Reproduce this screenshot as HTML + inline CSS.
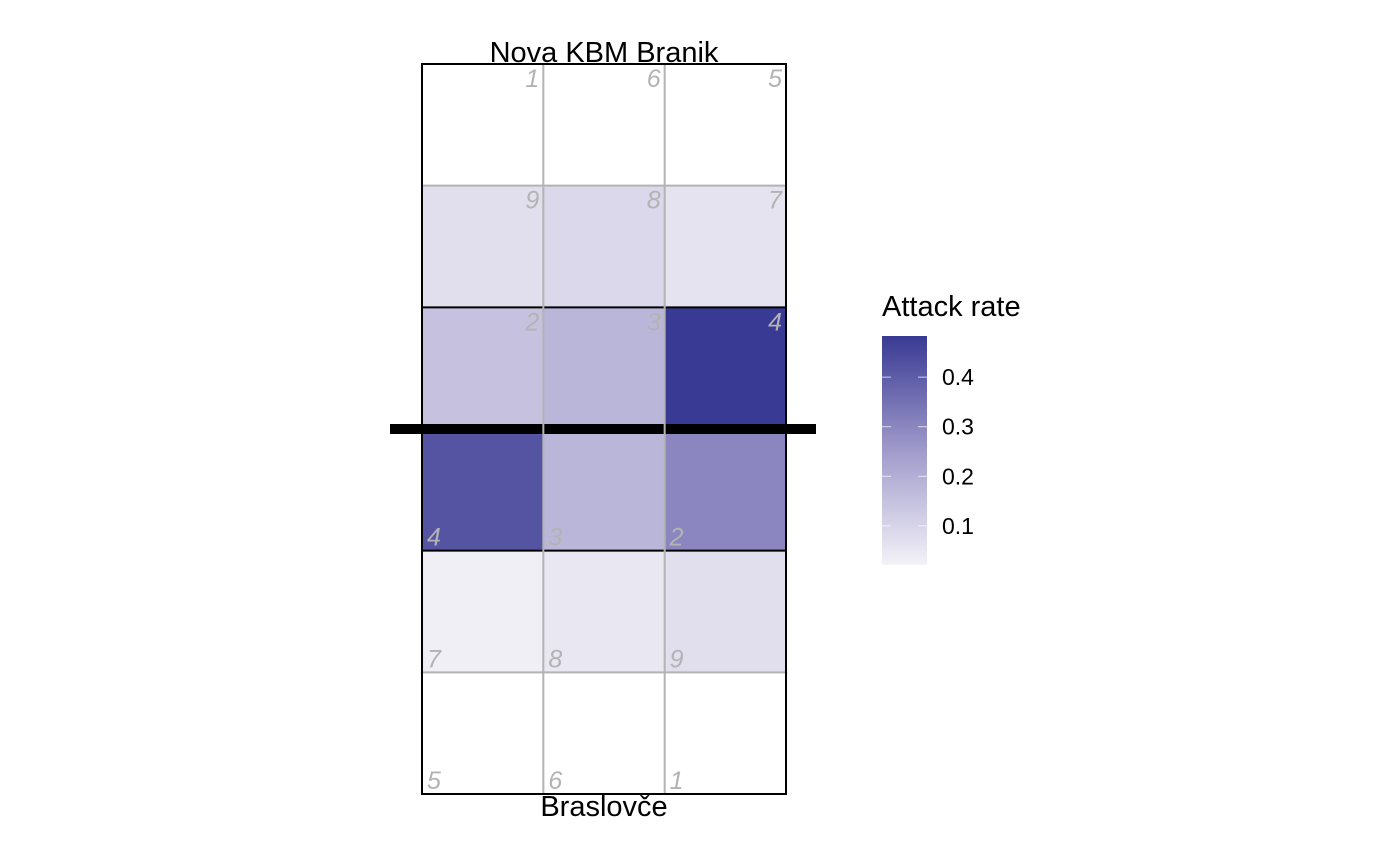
<!DOCTYPE html>
<html><head><meta charset="utf-8"><style>body{margin:0;background:#fff}svg{display:block;font-family:"Liberation Sans",sans-serif}</style></head>
<body>
<svg id="chart" width="1400" height="865" viewBox="0 0 1400 865" xmlns="http://www.w3.org/2000/svg">
<defs><linearGradient id="lg" x1="0" y1="1" x2="0" y2="0">
<stop offset="0" stop-color="#f3f2f8"/><stop offset="0.496" stop-color="#a19bcb"/><stop offset="1" stop-color="#393a94"/></linearGradient></defs>
<g id="cells"></g>
<g id="lines"></g>
<g id="labels"></g>
<text x="604" y="62" font-size="29" text-anchor="middle">Nova KBM Branik</text>
<text x="604" y="816" font-size="29" text-anchor="middle">Braslovče</text>
<g>
<text x="882" y="316" font-size="29">Attack rate</text>
<rect x="882" y="336" width="45" height="229" fill="url(#lg)"/>
<g id="legticks"></g>
</g>
</svg>
<script>
const rowZones=[[1,6,5],[9,8,7],[2,3,4],[4,3,2],[7,8,9],[5,6,1]];
const rowValues=[[null,null,null],[0.07,0.09,0.06],[0.15,0.18,0.483],[0.42,0.18,0.30],[0.03,0.05,0.07],[null,null,null]];
const legendTicks=[0.1,0.2,0.3,0.4];
const legendTickLabels=["0.1","0.2","0.3","0.4"];
const vmin=0.021,vmax=0.483;
const X0=422,X1=786,Y0=64,Y1=794,cw=(X1-X0)/3,ch=(Y1-Y0)/6;
const ns="http://www.w3.org/2000/svg";
function mk(t,a,p){const e=document.createElementNS(ns,t);for(const k in a)e.setAttribute(k,a[k]);p.appendChild(e);return e;}
const stops=[[0,[243,242,248]],[0.496,[161,155,203]],[1,[57,58,148]]];
function color(v){let t=(v-vmin)/(vmax-vmin);t=Math.max(0,Math.min(1,t));
for(let i=0;i<stops.length-1;i++){const[a,ca]=stops[i],[b,cb]=stops[i+1];if(t<=b){const u=(t-a)/(b-a);return`rgb(${ca.map((c,j)=>Math.round(c+(cb[j]-c)*u)).join(',')})`;}}return'rgb(57,58,148)';}
const legY=v=>565-(v-vmin)/(vmax-vmin)*229;
const cells=document.getElementById('cells'),lines=document.getElementById('lines'),labels=document.getElementById('labels');
rowValues.forEach((row,r)=>row.forEach((v,c)=>{
 const e=mk('rect',{x:X0+c*cw,y:Y0+r*ch,width:cw,height:ch,fill:v==null?'#ffffff':color(v)},cells);
 
 
 const top=r<3;
 const t=mk('text',{x:top?X0+(c+1)*cw-4:X0+c*cw+5,y:top?Y0+r*ch+23:Y0+(r+1)*ch-5,'font-size':25,'font-style':'italic',fill:'#b3b3b3','text-anchor':top?'end':'start'},labels);
 t.textContent=rowZones[r][c];
 
 
}));
[1,5].forEach(i=>{const l=mk('line',{x1:X0,x2:X1,y1:Y0+i*ch,y2:Y0+i*ch,stroke:'#b3b3b3','stroke-width':2},lines);});
[2,4].forEach(i=>{const l=mk('line',{x1:X0,x2:X1,y1:Y0+i*ch,y2:Y0+i*ch,stroke:'#000','stroke-width':2},lines);});
const net=mk('line',{x1:390,x2:816,y1:429,y2:429,stroke:'#000','stroke-width':10},lines);


[1,2].forEach(i=>{const l=mk('line',{x1:X0+i*cw,x2:X0+i*cw,y1:Y0,y2:Y1,stroke:'#b3b3b3','stroke-width':2},lines);});
const b=mk('rect',{x:X0,y:Y0,width:X1-X0,height:Y1-Y0,fill:'none',stroke:'#000','stroke-width':2},lines);


const lt=document.getElementById('legticks');
legendTicks.forEach((v,i)=>{const y=legY(v);
 mk('line',{x1:882,x2:891,y1:y,y2:y,stroke:'#fff','stroke-opacity':0.7,'stroke-width':1},lt);
 mk('line',{x1:918,x2:927,y1:y,y2:y,stroke:'#fff','stroke-opacity':0.7,'stroke-width':1},lt);
 const t=mk('text',{x:942,y:y+8,'font-size':23},lt);t.textContent=legendTickLabels[i];
 
 
});
</script>
</body></html>
